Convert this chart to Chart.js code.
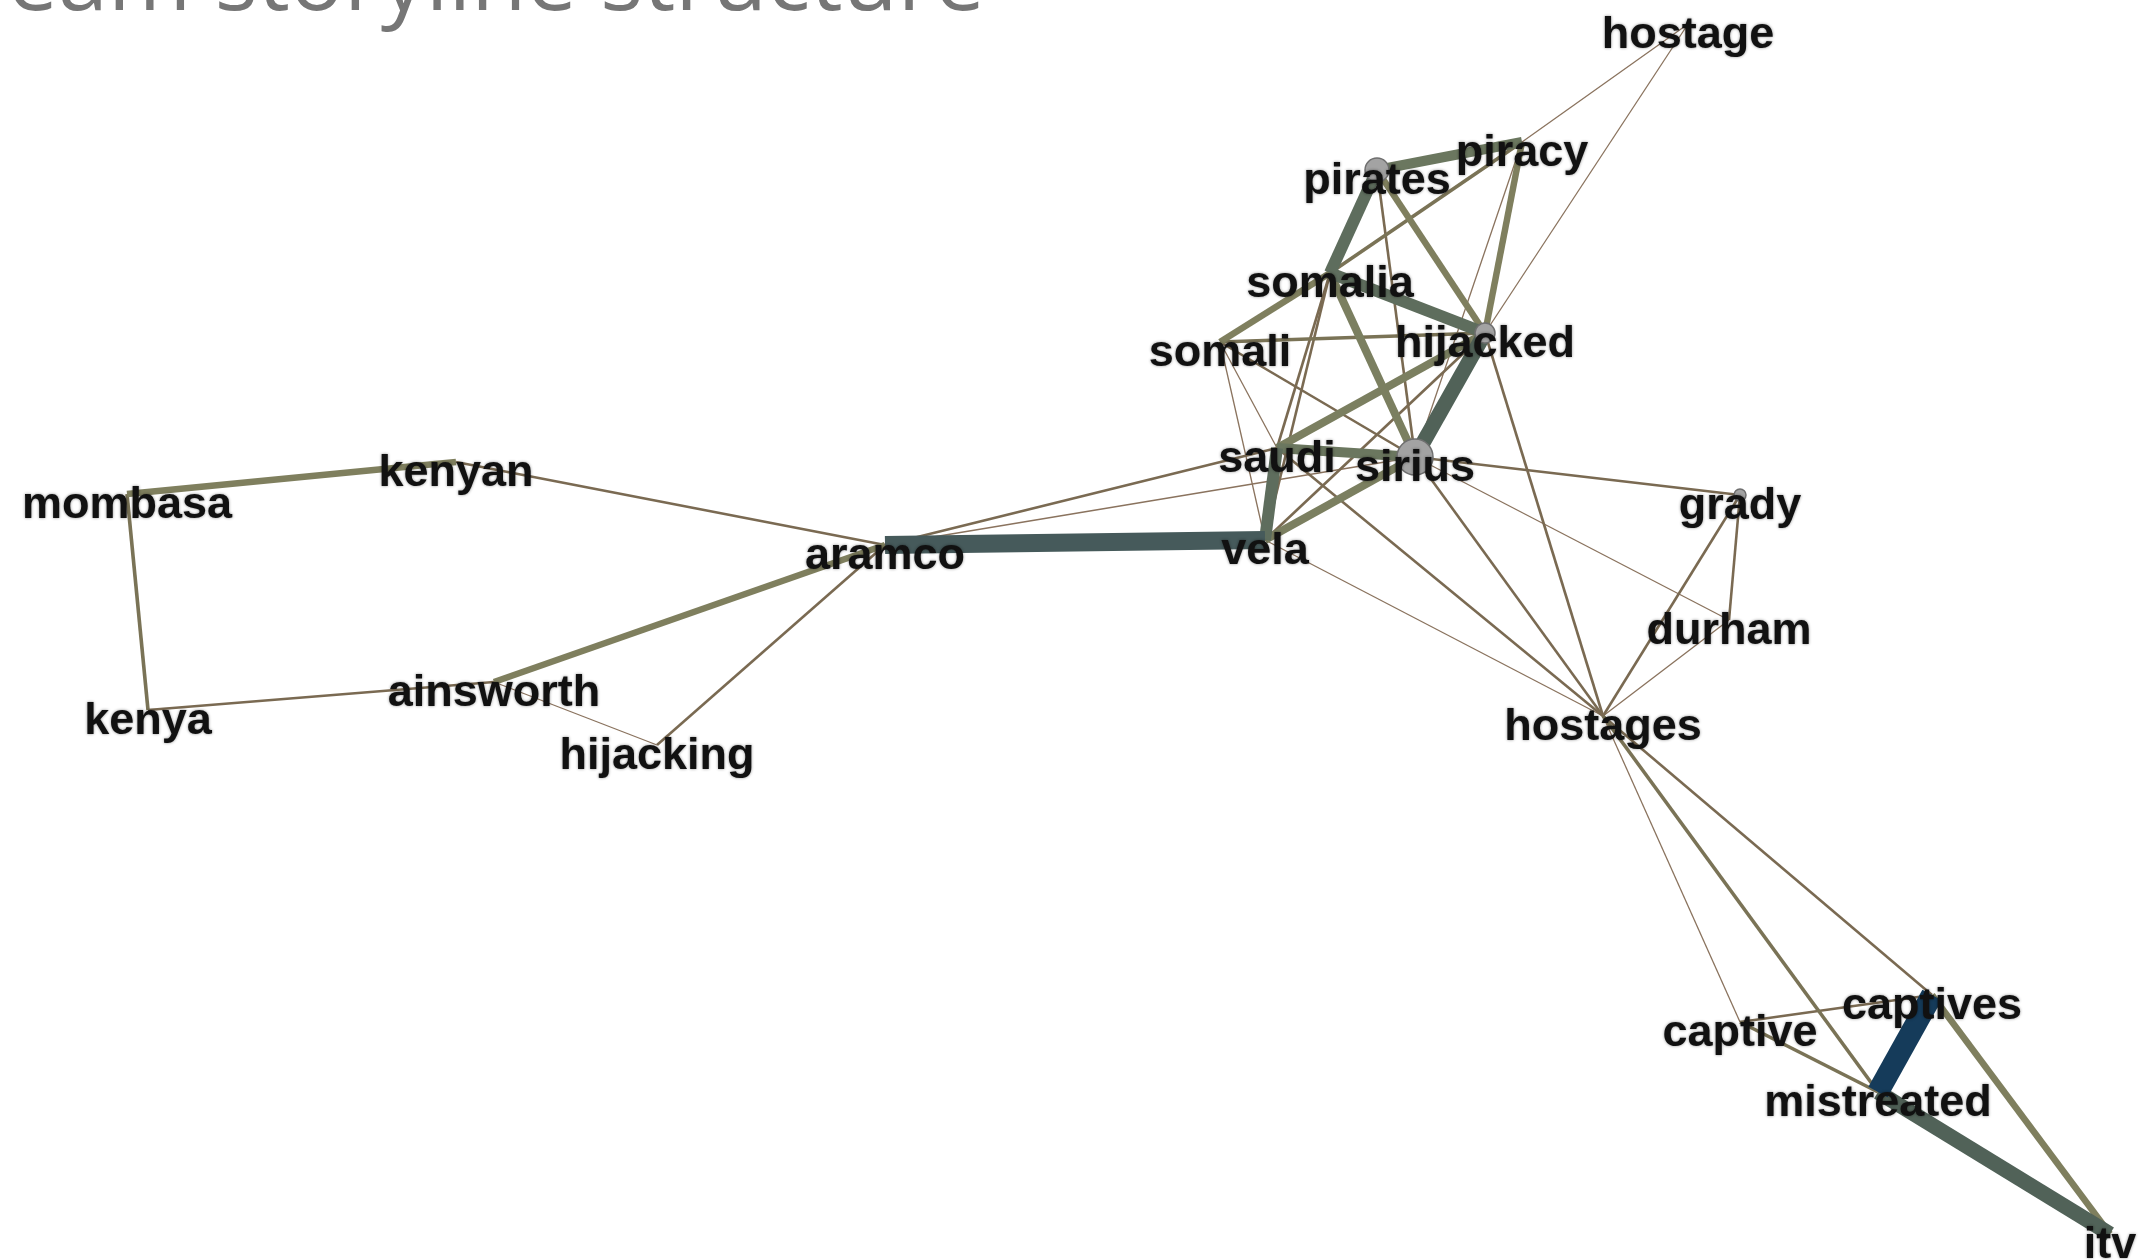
<!DOCTYPE html>
<html>
<head>
<meta charset="utf-8">
<script src="https://cdn.jsdelivr.net/npm/chart.js@4/dist/chart.umd.min.js"></script>
<style>
  html, body { margin: 0; padding: 0; background: #fff; overflow: hidden; }
  #wrap { width: 2152px; height: 1260px; position: relative; }
</style>
</head>
<body>
<div id="wrap"><canvas id="graph"></canvas></div>
<script>
// layout of the term network (x, y on the plot plane)
const nodes = ['hostage', 'pirates', 'piracy', 'somalia', 'somali', 'hijacked', 'saudi', 'sirius', 'vela', 'aramco',
    'kenyan', 'mombasa', 'kenya', 'ainsworth', 'hijacking', 'grady', 'durham', 'hostages', 'captive', 'captives',
    'mistreated', 'itv'];
const nodeX = [1688, 1377, 1522, 1330, 1220, 1485, 1277, 1415, 1265, 885,
    456, 127, 148, 494, 657, 1740, 1729, 1603, 1740, 1932,
    1878, 2110];
const nodeY = [24, 170, 142, 273, 342, 333, 448, 457, 540, 545,
    462, 494, 710, 682, 745, 495, 620, 716, 1022, 995,
    1092, 1234];
const nodeScore = [0, 3, 0, 0, 0, 2.5, 0, 4.5, 0, 0,
    0, 0, 0, 0, 0, 1.5, 0, 0, 0, 0,
    0, 0];

// links: from, to, weight (1..10)
const edgeFrom = ['mombasa', 'mombasa', 'kenyan', 'kenya', 'ainsworth', 'ainsworth', 'hijacking', 'aramco', 'aramco', 'aramco',
    'vela', 'vela', 'vela', 'vela', 'vela', 'vela', 'somali', 'somali', 'somali', 'somali',
    'pirates', 'pirates', 'pirates', 'pirates', 'piracy', 'piracy', 'piracy', 'hostage', 'hostage', 'somalia',
    'somalia', 'somalia', 'hijacked', 'hijacked', 'hijacked', 'saudi', 'saudi', 'sirius', 'sirius', 'sirius',
    'grady', 'grady', 'durham', 'hostages', 'hostages', 'hostages', 'captive', 'captive', 'captives', 'mistreated',
    'captives'];
const edgeTo = ['kenyan', 'kenya', 'aramco', 'ainsworth', 'aramco', 'hijacking', 'aramco', 'vela', 'saudi', 'sirius',
    'saudi', 'sirius', 'hijacked', 'somali', 'somalia', 'hostages', 'somalia', 'hijacked', 'saudi', 'sirius',
    'piracy', 'somalia', 'hijacked', 'sirius', 'somalia', 'hijacked', 'sirius', 'piracy', 'hijacked', 'hijacked',
    'sirius', 'saudi', 'sirius', 'saudi', 'hostages', 'sirius', 'hostages', 'hostages', 'grady', 'durham',
    'durham', 'hostages', 'hostages', 'captive', 'mistreated', 'captives', 'captives', 'mistreated', 'mistreated', 'itv',
    'itv'];
const edgeWeight = [4, 3, 2, 2, 4, 1, 2, 9, 2, 1,
    7, 5, 2, 1, 2, 1, 4, 3, 1, 2,
    6, 7, 4, 2, 3, 4, 1, 1, 1, 7,
    5, 2, 8, 5, 2, 6, 2, 2, 2, 1,
    2, 2, 1, 1, 3, 2, 2, 3, 10, 8,
    4];

const title = 'eam storyline structure';

// look of a link by weight
const widthByWeight = [0, 1.3, 2.6, 3.6, 6.5, 8, 10, 12, 15, 18, 22];
const colorByWeight = ['', '#8a735e', '#7a6a52', '#7a7356', '#7f7f5e', '#7b7f60', '#6b775f', '#5e6d5d', '#516258', '#465a5b', '#153b5a'];

function pos(name) {
    const i = nodes.indexOf(name);
    return { x: nodeX[i], y: nodeY[i] };
}

const datasets = [];
edgeFrom.forEach(function (f, i) {
    const w = edgeWeight[i];
    datasets.push({
        type: 'line',
        data: [pos(f), pos(edgeTo[i])],
        borderColor: colorByWeight[w],
        borderWidth: widthByWeight[w],
        pointRadius: 0,
        pointHoverRadius: 0,
        showLine: true,
        fill: false,
        order: 20 - w
    });
});
datasets.push({
    type: 'scatter',
    data: nodes.map(function (n, i) { return { x: nodeX[i], y: nodeY[i] }; }),
    pointRadius: nodeScore.map(function (s) { return s * 4; }),
    pointHoverRadius: nodeScore.map(function (s) { return s * 4; }),
    backgroundColor: '#a3a3a3',
    borderColor: '#6f6f6f',
    borderWidth: 1.5,
    order: 0
});

const labelPlugin = {
    id: 'nodeLabels',
    afterDatasetsDraw(chart) {
        const ctx = chart.ctx;
        const xs = chart.scales.x, ys = chart.scales.y;
        ctx.save();
        ctx.font = 'bold 45px "Liberation Sans", Arial, sans-serif';
        ctx.fillStyle = '#111';
        ctx.textAlign = 'center';
        ctx.textBaseline = 'middle';
        ctx.shadowColor = 'rgba(0,0,0,0.45)';
        ctx.shadowBlur = 3;
        nodes.forEach(function (n, i) {
            ctx.fillText(n, xs.getPixelForValue(nodeX[i]), ys.getPixelForValue(nodeY[i]) + 12);
        });
        ctx.restore();
    },
    afterDraw(chart) {
        const ctx = chart.ctx;
        ctx.save();
        ctx.font = '90px "Open Sans", sans-serif';
        ctx.fillStyle = '#767676';
        ctx.textAlign = 'right';
        ctx.textBaseline = 'alphabetic';
        ctx.fillText(title, 985, 10);
        ctx.restore();
    }
};

new Chart(document.getElementById('graph'), {
    type: 'scatter',
    data: { datasets: datasets },
    options: {
        responsive: true,
        maintainAspectRatio: false,
        animation: false,
        layout: { padding: 0, autoPadding: false },
        plugins: {
            legend: { display: false },
            tooltip: { enabled: false }
        },
        scales: {
            x: { type: 'linear', min: 0, max: 2152, display: false },
            y: { type: 'linear', min: 0, max: 1260, reverse: true, display: false }
        }
    },
    plugins: [labelPlugin]
});
</script>
</body>
</html>
